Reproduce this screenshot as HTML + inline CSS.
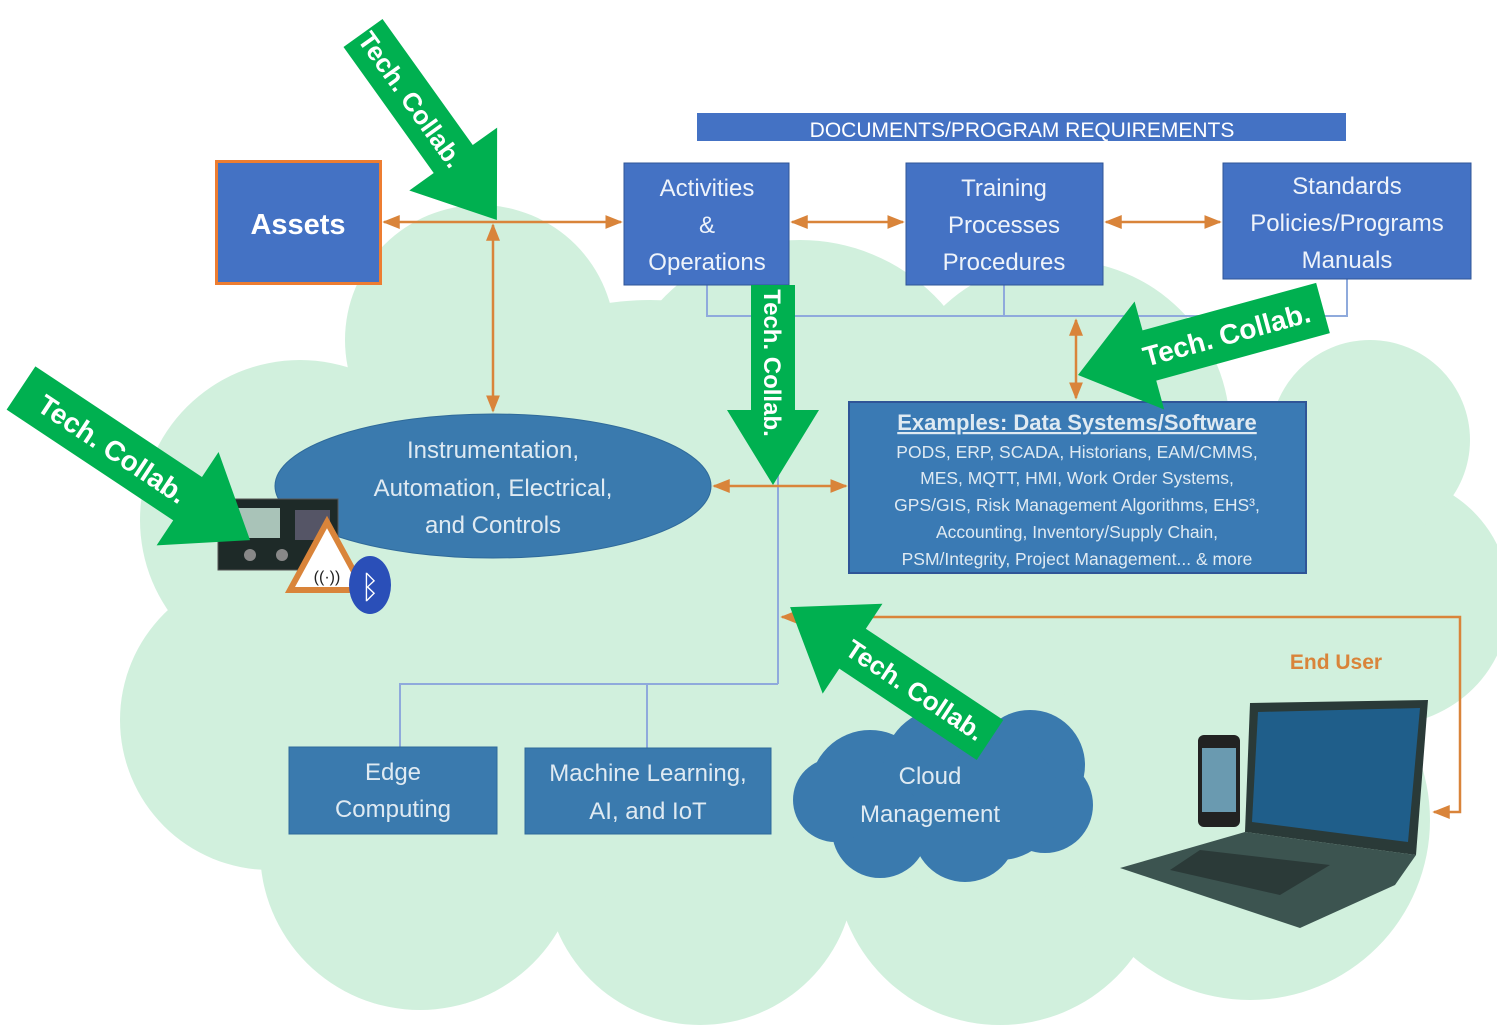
<!DOCTYPE html>
<html><head><meta charset="utf-8"><style>
html,body{margin:0;padding:0;background:#fff}
svg{display:block}
text{font-family:"Liberation Sans",sans-serif}
</style></head><body>
<svg width="1497" height="1025" viewBox="0 0 1497 1025" xmlns="http://www.w3.org/2000/svg">
<defs>
<marker id="ah" viewBox="0 0 10 10" refX="9" refY="5" markerWidth="7" markerHeight="7" orient="auto-start-reverse"><path d="M0,1 L10,5 L0,9 z" fill="#d9843a"/></marker>
</defs>
<!-- big cloud -->
<g fill="#d1f0dd">
<circle cx="480" cy="340" r="135"/><circle cx="300" cy="520" r="160"/><circle cx="270" cy="720" r="150"/>
<circle cx="420" cy="850" r="160"/><circle cx="700" cy="870" r="155"/><circle cx="1000" cy="860" r="165"/>
<circle cx="1250" cy="820" r="180"/><circle cx="1385" cy="600" r="125"/><circle cx="1370" cy="440" r="100"/>
<circle cx="1060" cy="430" r="170"/><circle cx="800" cy="430" r="190"/><circle cx="650" cy="600" r="300"/>
<circle cx="1000" cy="620" r="280"/><circle cx="1250" cy="620" r="200"/>
</g>
<!-- banner -->
<rect x="697" y="113" width="649" height="28" fill="#4472c4"/>
<text x="1022" y="137" fill="#fff" font-size="21" text-anchor="middle">DOCUMENTS/PROGRAM REQUIREMENTS</text>
<!-- blue thin connectors -->
<g stroke="#8faadc" stroke-width="2" fill="none">
<polyline points="707,285 707,316 1347,316 1347,279"/>
<line x1="1004" y1="285" x2="1004" y2="316"/>
<line x1="778" y1="285" x2="778" y2="684"/>
<polyline points="400,747 400,684 778,684"/>
<line x1="647" y1="684" x2="647" y2="748"/>
</g>
<!-- boxes -->
<rect x="216.5" y="161.5" width="164" height="122" fill="#4472c4" stroke="#ed7d31" stroke-width="3"/>
<text x="298" y="234" fill="#fff" font-size="29" font-weight="bold" text-anchor="middle">Assets</text>
<rect x="624" y="163" width="165" height="122" fill="#4472c4" stroke="#2f5597" stroke-width="1"/>
<g fill="#eef3fa" font-size="24" text-anchor="middle">
<text x="707" y="196">Activities</text><text x="707" y="233">&amp;</text><text x="707" y="270">Operations</text>
</g>
<rect x="906" y="163" width="197" height="122" fill="#4472c4" stroke="#2f5597" stroke-width="1"/>
<g fill="#eef3fa" font-size="24" text-anchor="middle">
<text x="1004" y="196">Training</text><text x="1004" y="233">Processes</text><text x="1004" y="270">Procedures</text>
</g>
<rect x="1223" y="163" width="248" height="116" fill="#4472c4" stroke="#2f5597" stroke-width="1"/>
<g fill="#eef3fa" font-size="24" text-anchor="middle">
<text x="1347" y="194">Standards</text><text x="1347" y="231">Policies/Programs</text><text x="1347" y="268">Manuals</text>
</g>
<ellipse cx="493" cy="486" rx="218" ry="72" fill="#3a7aae" stroke="#2f6a9a"/>
<g fill="#dfeaf2" font-size="24" text-anchor="middle">
<text x="493" y="458">Instrumentation,</text><text x="493" y="496">Automation, Electrical,</text><text x="493" y="533">and Controls</text>
</g>
<rect x="849" y="402" width="457" height="171" fill="#3a7ab4" stroke="#2f5597" stroke-width="2"/>
<text x="1077" y="430" fill="#dfeaf2" font-size="22" font-weight="bold" text-anchor="middle" text-decoration="underline">Examples: Data Systems/Software</text>
<g fill="#dfeaf2" font-size="17.5" text-anchor="middle">
<text x="1077" y="458">PODS, ERP, SCADA, Historians, EAM/CMMS,</text>
<text x="1077" y="484">MES, MQTT, HMI, Work Order Systems,</text>
<text x="1077" y="511">GPS/GIS, Risk Management Algorithms, EHS³,</text>
<text x="1077" y="538">Accounting, Inventory/Supply Chain,</text>
<text x="1077" y="565">PSM/Integrity, Project Management... &amp; more</text>
</g>
<rect x="289" y="747" width="208" height="87" fill="#3a7aae" stroke="#2f6a9a"/>
<g fill="#dfeaf2" font-size="24" text-anchor="middle">
<text x="393" y="780">Edge</text><text x="393" y="817">Computing</text>
</g>
<rect x="525" y="748" width="246" height="86" fill="#3a7aae" stroke="#2f6a9a"/>
<g fill="#dfeaf2" font-size="24" text-anchor="middle">
<text x="648" y="781">Machine Learning,</text><text x="648" y="819">AI, and IoT</text>
</g>
<!-- cloud management -->
<g fill="#3a7aae">
<circle cx="870" cy="790" r="60"/><circle cx="945" cy="770" r="62"/><circle cx="1030" cy="765" r="55"/>
<circle cx="1045" cy="805" r="48"/><circle cx="965" cy="830" r="52"/><circle cx="880" cy="830" r="48"/>
<circle cx="1000" cy="800" r="60"/><circle cx="835" cy="800" r="42"/>
</g>
<g fill="#dfeaf2" font-size="24" text-anchor="middle">
<text x="930" y="784">Cloud</text><text x="930" y="822">Management</text>
</g>
<!-- orange connectors -->
<g stroke="#d9843a" stroke-width="2.5" fill="none">
<line x1="384" y1="222" x2="621" y2="222" marker-start="url(#ah)" marker-end="url(#ah)"/>
<line x1="493" y1="225" x2="493" y2="411" marker-start="url(#ah)" marker-end="url(#ah)"/>
<line x1="792" y1="222" x2="903" y2="222" marker-start="url(#ah)" marker-end="url(#ah)"/>
<line x1="1106" y1="222" x2="1220" y2="222" marker-start="url(#ah)" marker-end="url(#ah)"/>
<line x1="1076" y1="320" x2="1076" y2="398" marker-start="url(#ah)" marker-end="url(#ah)"/>
<line x1="714" y1="486" x2="846" y2="486" marker-start="url(#ah)" marker-end="url(#ah)"/>
<polyline points="1434,812 1460,812 1460,617 782,617" marker-start="url(#ah)" marker-end="url(#ah)"/>
</g>
<text x="1336" y="669" fill="#d9843a" font-size="21" font-weight="bold" text-anchor="middle">End User</text>
<!-- devices left -->
<rect x="218" y="499" width="120" height="71" fill="#1e2a28" stroke="#555"/>
<rect x="238" y="508" width="42" height="30" fill="#a9c3b8"/>
<circle cx="250" cy="555" r="6" fill="#888"/><circle cx="282" cy="555" r="6" fill="#888"/>
<rect x="295" y="510" width="35" height="30" fill="#556"/>
<polygon points="327,522 290,590 364,590" fill="#fff" stroke="#d9843a" stroke-width="6"/>
<text x="327" y="582" font-size="16" text-anchor="middle" fill="#222">((·))</text>
<ellipse cx="370" cy="585" rx="21" ry="29" fill="#2a4fb8"/>
<text x="370" y="598" font-size="32" text-anchor="middle" fill="#fff">ᛒ</text>
<!-- phone & laptop -->
<rect x="1198" y="735" width="42" height="92" rx="6" fill="#222"/>
<rect x="1202" y="748" width="34" height="64" fill="#6a9ab0"/>
<polygon points="1250,703 1428,700 1416,855 1245,832" fill="#2a3a38"/>
<polygon points="1258,712 1420,708 1408,842 1252,822" fill="#1f5e8a"/>
<polygon points="1245,832 1416,855 1395,885 1300,928 1120,868" fill="#3c5450"/>
<polygon points="1200,850 1330,865 1280,895 1170,870" fill="#2b3a38"/>
<!-- green arrows -->
<g fill="#00b050">
<g transform="translate(363,33) rotate(54.4)"><polygon points="0,-24 155,-24 155,-54 230,0 155,54 155,24 0,24"/>
<text x="82" y="9" fill="#fff" font-size="26" font-weight="bold" text-anchor="middle">Tech. Collab.</text></g>
<g transform="translate(773,285) rotate(90)"><polygon points="0,-22 125,-22 125,-46 200,0 125,46 125,22 0,22"/>
<text x="78" y="9" fill="#fff" font-size="24" font-weight="bold" text-anchor="middle">Tech. Collab.</text></g>
<g transform="translate(21,388) rotate(33.6)"><polygon points="0,-26 200,-26 200,-56 275,0 200,56 200,26 0,26"/>
<text x="110" y="10" fill="#fff" font-size="28" font-weight="bold" text-anchor="middle">Tech. Collab.</text></g>
<g transform="translate(1323,308) rotate(164.7)"><polygon points="0,-26 180,-26 180,-56 254,0 180,56 180,26 0,26"/>
<text x="100" y="10" fill="#fff" font-size="28" font-weight="bold" text-anchor="middle" transform="rotate(180 100 0)">Tech. Collab.</text></g>
<g transform="translate(990,740) rotate(213.6)"><polygon points="0,-24 165,-24 165,-54 240,0 165,54 165,24 0,24"/>
<text x="90" y="9" fill="#fff" font-size="26" font-weight="bold" text-anchor="middle" transform="rotate(180 90 0)">Tech. Collab.</text></g>
</g>
</svg>
</body></html>
